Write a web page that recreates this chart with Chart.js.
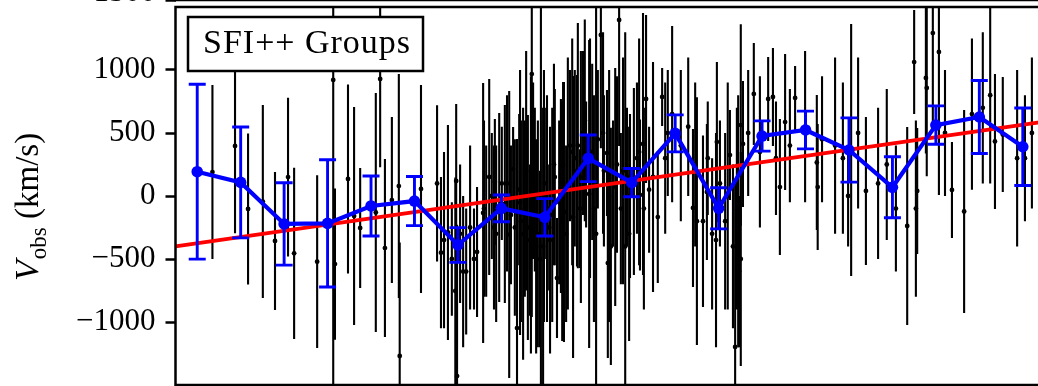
<!DOCTYPE html>
<html>
<head>
<meta charset="utf-8">
<script src="https://cdn.jsdelivr.net/npm/chart.js@4.4.1/dist/chart.umd.min.js"></script>
<style>
  html, body { margin: 0; padding: 0; background: #fff; overflow: hidden; }
  #wrap { position: relative; width: 1038px; height: 386px; overflow: hidden; background: #fff; }
  #upper { position: absolute; left: 0; top: -385px; }
  #main { position: absolute; left: 0; top: 0; }
</style>
</head>
<body>
<div id="wrap">
  <canvas id="upper" width="1060" height="400" style="width:1060px;height:400px"></canvas>
  <canvas id="main" width="1060" height="400" style="width:1060px;height:400px"></canvas>
</div>
<script>
// ---- individual groups: cos(theta), observed velocity, 1-sigma error (km/s) ----
const groupCos = [
  -0.915, -0.863, -0.833, -0.799, -0.771, -0.741, -0.727, -0.674, -0.637, -0.633,
  -0.603, -0.589, -0.575, -0.539, -0.529, -0.518, -0.502, -0.486, -0.484, -0.435,
  -0.398, -0.389, -0.382, -0.373, -0.364, -0.354, -0.356, -0.352, -0.345, -0.338,
  -0.331, -0.322, -0.313, -0.306, -0.292, -0.285, -0.278, -0.272, -0.265, -0.262,
  -0.255, -0.249, -0.242, -0.232, -0.228, -0.223, -0.219, -0.214, -0.209, -0.207,
  -0.205, -0.196, -0.189, -0.184, -0.180, -0.177, -0.173, -0.166, -0.161, -0.159,
  -0.154, -0.150, -0.145, -0.140, -0.133, -0.127, -0.122, -0.117, -0.113, -0.108,
  -0.106, -0.101, -0.092, -0.085, -0.081, -0.076, -0.074, -0.069, -0.062, -0.055,
  -0.048, -0.041, -0.032, -0.028, -0.021, -0.014, -0.007, -0.005, 0.002, 0.007,
  0.012, 0.016, 0.021, 0.025, 0.035, 0.039, 0.046, 0.055, 0.062, 0.069,
  0.076, 0.083, 0.090, 0.099, 0.110, 0.120, 0.127, 0.133, 0.143, 0.163,
  0.180, 0.191, 0.196, 0.200, 0.214, 0.223, 0.225, 0.235, 0.246, 0.253,
  0.265, 0.276, 0.283, 0.288, 0.292, 0.295, 0.297, 0.301, 0.306, 0.318,
  0.331, 0.345, 0.364, 0.375, 0.382, 0.391, 0.403, 0.414, 0.426, 0.449,
  0.476, 0.478, 0.488, 0.518, 0.536, 0.548, 0.555, 0.571, 0.589, 0.617,
  0.637, 0.658, 0.684, 0.700, 0.704, 0.707, 0.727, 0.729, 0.743, 0.757,
  0.771, 0.787, 0.815, 0.833, 0.858, 0.875, 0.886, 0.904, 0.937, 0.955,
  0.971,
  -0.290, -0.267, -0.237, -0.200, -0.193, -0.182, -0.170, -0.152, -0.138, -0.129,
  -0.110, -0.097, -0.087, -0.067, -0.058, -0.046, -0.037, -0.016, -0.002, 0.030,
  0.044, 0.067, 0.078, 0.244, 0.271, 0.301
];
const groupV = [
  190, 397, -103, -44, -357, 150, -455, -521, 921, -540,
  135, -159, -254, -131, 929, -413, -32, 79, -1270, 56,
  100, -450, -350, -289, -500, 119, -754, -1429, -300, -600,
  -600, -250, -500, -444, -135, -200, 151, 0, 111, -300,
  -91, 100, -63, -306, -150, 214, -250, -1048, 50, -52,
  -200, -100, -250, -350, 968, 200, 50, -300, -500, -200,
  -400, 100, -100, -250, -150, 150, -651, -50, 0, 246,
  -127, -300, 400, -167, 300, 200, 400, -100, 500, 250,
  16, 350, -300, 450, 1278, 200, 341, -532, -400, 100,
  71, 250, 1397, -100, -400, 150, 0, 115, 300, 8,
  413, 770, 50, 151, -167, 786, 300, 500, 650, 400,
  550, -95, 250, -200, -200, 32, 300, -300, 429, 100,
  -200, 325, -400, -1198, -100, -200, -600, 563, 413, 500,
  810, 350, 770, 786, 300, 71, 587, 400, 778, 550,
  266, 71, 450, 400, 300, 0, 365, 500, 40, 100,
  250, -100, -238, 1063, -100, 40, 937, 857, 1293, 1143,
  500, 48, -123, 650, 700, 800, 433, 488, 300, 300,
  500,
  -100, -250, 100, -300, 200, -150, -400, 0, -350, 250,
  -200, 100, 350, 150, 600, 300, -100, 500, 0, 200,
  -300, 350, -100, -350, 0, -500
];
const groupErr = [
  690, 693, 600, 766, 548, 630, 680, 685, 2500, 600,
  750, 865, 476, 948, 700, 706, 659, 889, 900, 825,
  620, 600, 700, 853, 450, 611, 900, 1200, 550, 600,
  500, 650, 400, 516, 1032, 600, 778, 500, 500, 700,
  750, 450, 786, 1139, 550, 333, 700, 1500, 600, 1052,
  800, 700, 893, 600, 1929, 700, 650, 900, 700, 1800,
  1100, 600, 900, 500, 850, 700, 476, 650, 770, 659,
  1032, 700, 600, 1119, 700, 760, 973, 471, 650, 500,
  1222, 700, 1800, 550, 900, 600, 500, 754, 941, 500,
  944, 700, 1000, 600, 1700, 550, 650, 742, 600, 600,
  1040, 667, 500, 913, 524, 230, 600, 500, 700, 600,
  550, 627, 650, 983, 681, 540, 450, 600, 635, 500,
  700, 357, 650, 1300, 800, 1000, 600, 800, 500, 500,
  405, 600, 333, 389, 450, 540, 540, 450, 254, 600,
  536, 500, 500, 700, 600, 400, 1000, 600, 587, 600,
  600, 500, 786, 413, 700, 500, 600, 700, 700, 1135,
  500, 381, 806, 600, 600, 700, 536, 456, 700, 500,
  600,
  700, 650, 700, 1000, 950, 1100, 850, 1000, 900, 800,
  950, 1000, 900, 1000, 800, 950, 900, 800, 1000, 900,
  850, 900, 800, 850, 900, 850
];

// ---- binned weighted means ----
const binCos = [-0.95, -0.85, -0.75, -0.65, -0.55, -0.45, -0.35, -0.25, -0.15, -0.05,
                 0.05, 0.15, 0.25, 0.35, 0.45, 0.55, 0.65, 0.75, 0.85, 0.95];
const binV   = [193, 108, -222, -217, -79, -40, -389, -98, -169, 299,
                106, 497, -98, 476, 524, 365, 69, 563, 627, 391];
const binErr = [694, 440, 327, 505, 238, 195, 138, 106, 148, 185,
                112, 147, 163, 120, 150, 255, 242, 152, 290, 308];

// ---- best-fit dipole line ----
const fitCos = [-1, 1];
const fitV = [-400, 590];

// ---- axis ----
const yTickValues = [-1000, -500, 0, 500, 1000];
const upperTickValues = [-1500];
const legendLabel = 'SFI++ Groups';

const SERIF = "'Liberation Serif', 'Times New Roman', serif";
const minus = v => String(v).replace('-', '\u2212');

// vertical error bars drawn just before each dataset's own points
const errorBarPlugin = {
  id: 'errorBars',
  beforeDatasetDraw(chart, args) {
    const ds = chart.data.datasets[args.index];
    if (!ds.errors) return;
    const { ctx, chartArea: a } = chart;
    const xs = chart.scales.x, ys = chart.scales.y;
    ctx.save();
    ctx.beginPath();
    ctx.rect(a.left, a.top, a.right - a.left, a.bottom - a.top);
    ctx.clip();
    ctx.strokeStyle = ds.errorColor;
    ctx.lineWidth = ds.errorWidth;
    ctx.lineCap = 'butt';
    ds.data.forEach((p, i) => {
      const e = ds.errors[i];
      const x = xs.getPixelForValue(p.x);
      const yLo = ys.getPixelForValue(p.y - e);
      const yHi = ys.getPixelForValue(p.y + e);
      ctx.beginPath();
      ctx.moveTo(x, yLo);
      ctx.lineTo(x, yHi);
      if (ds.capHalf) {
        ctx.moveTo(x - ds.capHalf, yLo); ctx.lineTo(x + ds.capHalf, yLo);
        ctx.moveTo(x - ds.capHalf, yHi); ctx.lineTo(x + ds.capHalf, yHi);
      }
      ctx.stroke();
    });
    ctx.restore();
  }
};

// axes frame drawn on top of the data
const framePlugin = {
  id: 'frame',
  afterDatasetsDraw(chart) {
    const { ctx, chartArea: a } = chart;
    ctx.save();
    ctx.strokeStyle = '#000';
    ctx.lineWidth = 2.5;
    ctx.strokeRect(a.left, a.top, a.right - a.left, a.bottom - a.top);
    ctx.restore();
  }
};

// boxed legend label in the upper-left corner
const legendBoxPlugin = {
  id: 'legendBox',
  afterDraw(chart) {
    const { ctx, chartArea: a } = chart;
    const x0 = a.left + 12.5, y0 = a.top + 10, w = 235, h = 54;
    ctx.save();
    ctx.fillStyle = '#fff';
    ctx.fillRect(x0, y0, w, h);
    ctx.strokeStyle = '#000';
    ctx.lineWidth = 2.5;
    ctx.strokeRect(x0, y0, w, h);
    ctx.fillStyle = '#000';
    ctx.font = `34px ${SERIF}`;
    if ('letterSpacing' in ctx) ctx.letterSpacing = '1px';
    ctx.textBaseline = 'alphabetic';
    ctx.textAlign = 'left';
    ctx.fillText(legendLabel, x0 + 15, y0 + 35.5);
    ctx.restore();
  }
};

// y-axis title: italic V with roman subscript "obs", then the unit
const yTitlePlugin = {
  id: 'yTitle',
  afterDraw(chart) {
    const { ctx } = chart;
    ctx.save();
    ctx.translate(38, 281);
    ctx.rotate(-Math.PI / 2);
    ctx.fillStyle = '#000';
    ctx.textBaseline = 'alphabetic';
    ctx.textAlign = 'left';
    let x = 0;
    ctx.font = `italic 34px ${SERIF}`;
    ctx.fillText('V', x, 0);
    x += ctx.measureText('V').width + 1;
    ctx.font = `23px ${SERIF}`;
    ctx.fillText('obs', x, 8);
    x += ctx.measureText('obs').width;
    ctx.font = `33px ${SERIF}`;
    ctx.fillText(' (km/s)', x, 0);
    ctx.restore();
  }
};

const yScaleBase = (ticks, labelOffset) => ({
  type: 'linear',
  min: -1500,
  max: 1500,
  afterFit(scale) {
    scale.width = 175.5;
    scale.paddingTop = 0;
    scale.paddingBottom = 0;
  },
  afterBuildTicks(scale) { scale.ticks = ticks.map(v => ({ value: v })); },
  border: { display: false },
  grid: {
    drawOnChartArea: false,
    drawTicks: true,
    tickLength: 10,
    tickWidth: 2.5,
    tickColor: '#000'
  },
  ticks: {
    padding: 10,
    labelOffset: labelOffset,
    color: '#000',
    font: { family: SERIF, size: 31 },
    callback: v => minus(v)
  }
});

const xScale = { type: 'linear', min: -1, max: 1, display: false };

new Chart(document.getElementById('main'), {
  type: 'scatter',
  data: {
    datasets: [
      {
        label: 'groups',
        data: groupCos.map((c, i) => ({ x: c, y: groupV[i] })),
        errors: groupErr,
        errorColor: '#000',
        errorWidth: 2.1,
        capHalf: 0,
        pointRadius: 2.4,
        pointBackgroundColor: '#000',
        pointBorderWidth: 0,
        showLine: false,
        order: 3
      },
      {
        label: 'fit',
        type: 'line',
        data: fitCos.map((c, i) => ({ x: c, y: fitV[i] })),
        borderColor: '#ff0000',
        borderWidth: 3.8,
        pointRadius: 0,
        fill: false,
        order: 2
      },
      {
        label: 'binned',
        type: 'line',
        data: binCos.map((c, i) => ({ x: c, y: binV[i] })),
        errors: binErr,
        errorColor: '#0000ff',
        errorWidth: 2.9,
        capHalf: 8.5,
        borderColor: '#0000ff',
        borderWidth: 4.2,
        pointRadius: 5.8,
        pointBackgroundColor: '#0000ff',
        pointBorderWidth: 0,
        fill: false,
        order: 1
      }
    ]
  },
  options: {
    responsive: false,
    animation: false,
    devicePixelRatio: 1,
    layout: { padding: { left: 0, top: 7, right: 15.5, bottom: 15 } },
    plugins: { legend: { display: false }, tooltip: { enabled: false } },
    scales: { x: xScale, y: yScaleBase(yTickValues, 0) }
  },
  plugins: [errorBarPlugin, framePlugin, legendBoxPlugin, yTitlePlugin]
});

// panel stacked above: only its lower edge falls inside the figure
new Chart(document.getElementById('upper'), {
  type: 'scatter',
  data: { datasets: [] },
  options: {
    responsive: false,
    animation: false,
    devicePixelRatio: 1,
    layout: { padding: { left: 0, top: 7, right: 15.5, bottom: 15 } },
    plugins: { legend: { display: false }, tooltip: { enabled: false } },
    scales: { x: xScale, y: yScaleBase(upperTickValues, -7) }
  },
  plugins: [framePlugin]
});
</script>
</body>
</html>
